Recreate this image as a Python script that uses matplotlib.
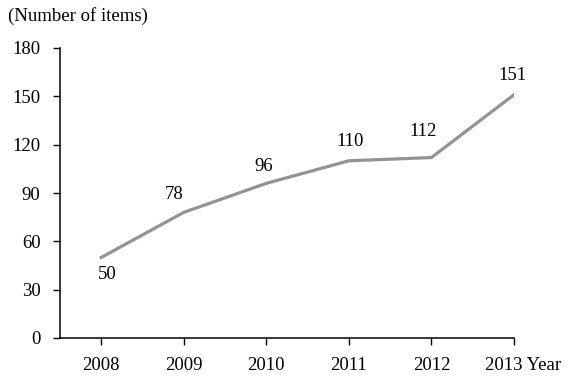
import matplotlib
matplotlib.use("Agg")
import matplotlib.pyplot as plt
from matplotlib.transforms import offset_copy

plt.rcParams['font.family'] = ['Liberation Serif', 'DejaVu Serif']

years = ["2008", "2009", "2010", "2011", "2012", "2013"]
counts = [50, 78, 96, 110, 112, 151]
yticks = [0, 30, 60, 90, 120, 150, 180]

# label offsets in points (dx, dy)
offsets = [(4, -12), (-7, 13), (-2, 12), (1, 14), (-6, 19), (-1, 14)]

fig = plt.figure(figsize=(5.73, 3.76), dpi=100)
ax = fig.add_axes([60/573, 38/376, 454/573, 290/376])

x = list(range(len(years)))
ax.plot(x, counts, color='#939393', lw=2.3, solid_joinstyle='miter')

for xi, v, (dx, dy) in zip(x, counts, offsets):
    ax.annotate(str(v), (xi, v), xytext=(dx, dy), textcoords='offset points',
                ha='center', va='center', fontsize=13.5)

ax.set_xlim(-0.5, len(years) - 1)
ax.set_ylim(0, 180)
ax.set_yticks(yticks)
ax.set_yticklabels([str(t) for t in yticks], fontsize=13.5)
ax.set_xticks(x)
labels = years[:-1] + [""]
ax.set_xticklabels(labels, fontsize=13.5)
ax.tick_params(axis='both', direction='out', length=5, width=1, color='black', pad=9)
ax.tick_params(axis='x', pad=9)

for s in ['top', 'right']:
    ax.spines[s].set_visible(False)
for s in ['left', 'bottom']:
    ax.spines[s].set_linewidth(1.1)

# last label "2013 Year"
tr = offset_copy(ax.get_xaxis_transform(), fig=fig, x=-29, y=-28, units='dots')
ax.text(len(years) - 1, 0, years[-1] + " Year", transform=tr, ha='left', va='center', fontsize=13.5)

fig.text(8/573, 1 - 16/376, "(Number of items)", ha='left', va='center', fontsize=13.5)

fig.savefig("out.png", dpi=100)
